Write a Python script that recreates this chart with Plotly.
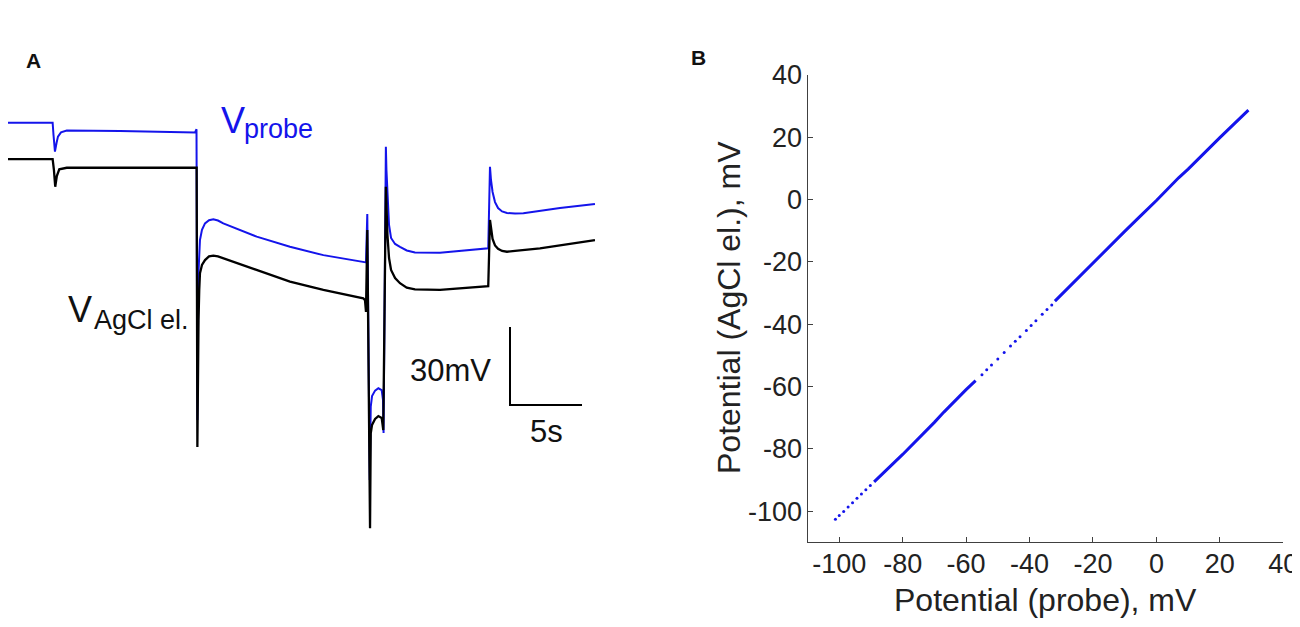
import plotly.graph_objects as go

# panel A: recorded traces, time in s, potential in mV
probe_t = [0.00, 3.10, 3.16, 3.26, 3.37, 3.47, 3.68, 4.08, 7.78, 12.99, 13.09, 13.15,
           13.22, 13.26, 13.33, 13.47, 13.68, 13.96, 14.26, 14.58, 14.95, 17.27, 19.58,
           21.90, 24.67, 24.86, 24.95, 25.02, 25.12, 25.19, 25.28, 25.49, 25.72, 25.95,
           26.04, 26.08, 26.24, 26.28, 26.35, 26.46, 26.60, 26.88, 27.22, 27.69, 28.26,
           30.00, 33.35, 33.47, 33.54, 33.65, 33.82, 34.03, 34.31, 34.65, 35.21, 35.79,
           38.33, 40.76]
probe_mv = [29.7, 29.7, 25.0, 18.6, 21.9, 24.4, 26.0, 26.7, 26.5, 26.0, 27.2, -84.6,
            -28.8, -21.2, -15.4, -11.5, -9.0, -7.8, -7.4, -7.9, -9.0, -14.1, -18.0,
            -21.2, -23.7, -24.0, -5.4, -38.5, -107.7, -79.5, -75.4, -73.3, -72.4, -73.1,
            -76.9, -89.6, 20.5, 11.5, 0.0, -9.6, -14.6, -16.9, -18.0, -19.4, -20.2,
            -20.3, -18.6, 12.8, 7.7, 3.1, -0.8, -3.1, -4.4, -5.0, -5.2, -5.1,
            -3.1, -1.5]

agcl_t = [0.00, 3.10, 3.19, 3.28, 3.39, 3.56, 4.08, 8.47, 13.10, 13.15, 13.19, 13.23,
          13.28, 13.33, 13.47, 13.68, 13.96, 14.26, 14.58, 14.95, 17.27, 19.58, 21.90,
          24.67, 24.79, 24.86, 24.95, 25.14, 25.19, 25.28, 25.49, 25.72, 25.95, 26.06,
          26.24, 26.28, 26.35, 26.46, 26.60, 26.88, 27.22, 27.69, 28.26, 30.00, 33.35,
          33.47, 33.54, 33.65, 33.82, 34.03, 34.31, 34.65, 35.21, 36.94, 40.76]
agcl_mv = [15.7, 15.7, 11.5, 5.1, 9.2, 11.8, 12.4, 12.5, 12.4, -95.0, -61.5, -46.2,
           -34.6, -28.2, -25.0, -23.1, -21.7, -21.4, -21.7, -22.4, -26.9, -31.4, -34.6,
           -37.8, -38.5, -43.0, -11.5, -126.2, -89.7, -86.5, -84.2, -83.1, -83.8, -88.5,
           5.1, -1.9, -13.5, -22.3, -26.9, -30.0, -32.0, -33.7, -34.4, -34.6, -33.1,
           -7.7, -11.5, -15.0, -17.5, -18.8, -19.6, -19.9, -19.6, -18.6, -15.4]

# scale bar
bar_mv = 30
bar_s = 5
bar_corner_t = 34.86
bar_corner_mv = -78.8

# panel B: probe vs AgCl electrode
probe_line = [-89, -80, -70, -67, -60, -57, None, -32, -25, -20, -10, -5, 0, 7, 10, 20, 29]
agcl_line = [-90.6, -81.8, -71.5, -68.2, -61.0, -58.1, None, -32.6, -25.4, -20.3, -10.2,
             -5.2, -0.3, 7.0, 9.8, 19.9, 28.7]
probe_dots = [-101.2, -100, -98.6, -97.2, -95.8, -94.4, -93, -91.6, -90.2, -55, -53.5,
              -52, -50, -48, -46, -44.5, -43, -41, -39.5, -38, -36, -34.5, -33]
agcl_dots = [-102.6, -101.4, -100.1, -98.7, -97.3, -95.9, -94.5, -93.1, -91.8, -56.2,
             -54.6, -53.1, -51.2, -49.1, -47.0, -45.5, -44.0, -42.0, -40.4, -38.9,
             -36.8, -35.3, -33.8]
ticks_b = [-100, -80, -60, -40, -20, 0, 20, 40]

BLUE = "rgb(20,20,235)"
FONT = "Liberation Sans, Arial, sans-serif"
PAGE_W, PAGE_H = 1300, 627
PAD = 8  # default body margin of the html page
W, H = PAGE_W - PAD, PAGE_H - 2 * PAD


# page pixel -> paper fraction
def px(x):
    return (x - PAD) / W


def py(y):
    return 1 - (y - PAD) / H


fig = go.Figure()

fig.add_trace(go.Scatter(x=probe_t, y=probe_mv, mode="lines",
                         line=dict(color=BLUE, width=2), xaxis="x", yaxis="y"))
fig.add_trace(go.Scatter(x=agcl_t, y=agcl_mv, mode="lines",
                         line=dict(color="black", width=2.3), xaxis="x", yaxis="y"))
fig.add_trace(go.Scatter(
    x=[bar_corner_t, bar_corner_t, bar_corner_t + bar_s],
    y=[bar_corner_mv + bar_mv, bar_corner_mv, bar_corner_mv],
    mode="lines", line=dict(color="black", width=2), xaxis="x", yaxis="y"))

fig.add_trace(go.Scatter(x=probe_line, y=agcl_line, mode="lines",
                         line=dict(color=BLUE, width=3), xaxis="x2", yaxis="y2"))
fig.add_trace(go.Scatter(x=probe_dots, y=agcl_dots, mode="markers",
                         marker=dict(color=BLUE, size=3), xaxis="x2", yaxis="y2"))

axis_b = dict(range=[-110, 40], tickvals=ticks_b, ticktext=[str(v) for v in ticks_b],
              showline=True, linecolor="#404040", linewidth=1.3,
              ticks="inside", ticklen=5, tickcolor="#404040",
              showgrid=False, zeroline=False, automargin=False,
              tickfont=dict(size=27, color="#222", family=FONT))

# panel A keeps the page y span 8..627 mapped to mV
y_top_mv = 73.85
y_bottom_mv = y_top_mv - H / 2.6

fig.update_layout(
    width=W, height=H, autosize=False,
    margin=dict(l=0, r=0, t=0, b=0),
    plot_bgcolor="white", paper_bgcolor="white",
    showlegend=False,
    font=dict(family=FONT, color="#222"),
    xaxis=dict(domain=[0, px(600)], range=[0, 41.11], visible=False),
    yaxis=dict(domain=[0, 1], range=[y_bottom_mv, y_top_mv], visible=False),
    xaxis2=dict(axis_b, domain=[px(807.5), px(1283.3)], anchor="y2",
                ticklabelstandoff=-3),
    yaxis2=dict(axis_b, domain=[py(542.3), py(75)], anchor="x2",
                ticklabelstandoff=-1),
)


def note(text, x, y, size, color="#111", xanchor="left", bold=False, angle=0):
    if bold:
        text = "<b>" + text + "</b>"
    fig.add_annotation(text=text, x=px(x), y=py(y), xref="paper", yref="paper",
                       xanchor=xanchor, yanchor="middle", showarrow=False,
                       textangle=angle,
                       font=dict(size=size, color=color, family=FONT))


note("A", 24, 60, 21, bold=True)
note("B", 689, 58, 21, bold=True)
note("V", 219, 120.5, 36, color=BLUE)
note("probe", 242, 128.6, 27, color=BLUE)
note("V", 66, 310, 36)
note("AgCl el.", 92, 320, 27)
note("30mV", 493, 370, 31, xanchor="right")
note("5s", 546, 431.5, 31, xanchor="center")
note("Potential (probe), mV", 1045, 600, 32, color="#222", xanchor="center")
note("Potential (AgCl el.), mV", 729, 308, 32, color="#222", xanchor="center", angle=-90)

fig.write_html("out.html")
